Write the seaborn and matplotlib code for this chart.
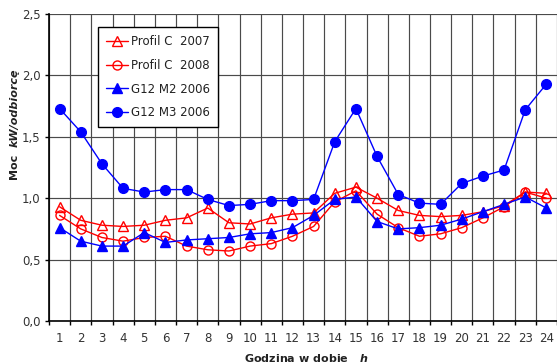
import matplotlib
matplotlib.use("Agg")
import matplotlib.pyplot as plt
import seaborn as sns
import pandas as pd
import numpy as np

hours = list(range(1, 25))
profil_c_2007 = [0.93, 0.82, 0.78, 0.77, 0.78, 0.82, 0.84, 0.92, 0.80, 0.79, 0.84, 0.87,
                 0.88, 1.04, 1.09, 1.00, 0.90, 0.86, 0.85, 0.86, 0.89, 0.94, 1.05, 1.04]
profil_c_2008 = [0.86, 0.75, 0.68, 0.65, 0.68, 0.69, 0.61, 0.58, 0.57, 0.61, 0.63, 0.69,
                 0.77, 0.97, 1.06, 0.87, 0.76, 0.69, 0.71, 0.76, 0.84, 0.93, 1.05, 1.00]
g12_m2_2006 = [0.76, 0.65, 0.61, 0.61, 0.72, 0.64, 0.66, 0.67, 0.68, 0.71, 0.72, 0.76,
               0.86, 0.99, 1.01, 0.81, 0.75, 0.76, 0.78, 0.83, 0.89, 0.95, 1.01, 0.92]
g12_m3_2006 = [1.73, 1.54, 1.28, 1.08, 1.05, 1.07, 1.07, 0.99, 0.94, 0.95, 0.98, 0.98,
               0.99, 1.46, 1.73, 1.34, 1.03, 0.96, 0.95, 1.12, 1.18, 1.23, 1.72, 1.93]
series_names = ["Profil C  2007", "Profil C  2008", "G12 M2 2006", "G12 M3 2006"]
y_ticks = [0.0, 0.5, 1.0, 1.5, 2.0, 2.5]
y_tick_labels = ["0,0", "0,5", "1,0", "1,5", "2,0", "2,5"]

sns.set_theme(style="white")
plt.rcParams['font.family'] = ['DejaVu Sans']

fig = plt.figure(figsize=(5.57, 3.64), dpi=100)
W, H = 557, 364
ax = fig.add_axes([49 / W, (H - 321) / H, (557 - 49) / W, (321 - 14) / H])

styles = [
    (profil_c_2007, "red", "^", "none"),
    (profil_c_2008, "red", "o", "none"),
    (g12_m2_2006, "blue", "^", "blue"),
    (g12_m3_2006, "blue", "o", "blue"),
]
for name, (vals, col, mk, fc) in zip(series_names, styles):
    df = pd.DataFrame({"h": hours, "v": vals})
    ms = 7 if mk == "o" and fc != "none" else 6.5
    sns.lineplot(data=df, x="h", y="v", ax=ax, color=col, marker=mk, markersize=ms,
                 markerfacecolor=fc, markeredgecolor=col, markeredgewidth=1.0,
                 linewidth=1.0, label=name, zorder=3)

ax.set_xlim(0.5, 24.23)
ax.set_ylim(0, 2.5)

ax.set_xticks(np.arange(0.5, 25, 1.0))
ax.set_xticklabels([])
ax.set_xticks(hours, minor=True)
ax.set_xticklabels([str(h) for h in hours], minor=True)
ax.tick_params(axis="x", which="major", length=3, width=1, color="black", direction="out", bottom=True)
ax.tick_params(axis="x", which="minor", length=0, pad=8, labelsize=8.5, labelcolor="#333333")
ax.set_yticks(y_ticks)
ax.set_yticklabels(y_tick_labels)
ax.tick_params(axis="y", length=3, width=1, color="black", direction="out", left=True,
               labelsize=8.5, labelcolor="#333333", pad=3)

ax.grid(True, which="major", axis="both", color="#4a4a4a", linewidth=0.85)
ax.set_axisbelow(True)
for s in ["left", "bottom"]:
    ax.spines[s].set_color("black")
    ax.spines[s].set_linewidth(1.2)
ax.spines["top"].set_visible(False)
ax.spines["right"].set_visible(False)

ax.set_xlabel("")
ax.set_ylabel("")
fig.text(306 / W, 1 - 358 / H, r"Godzina w dobie   $\boldsymbol{h}$", ha="center", va="center",
         fontsize=8, fontweight="bold", color="#222222")
fig.text(15 / W, 1 - 147 / H, "Moc  ", rotation=90, ha="center", va="top",
         fontsize=8, fontweight="bold", color="#222222")
fig.text(15 / W, 1 - 147 / H, "kW/odbiorcę", rotation=90, ha="center", va="bottom",
         fontsize=8, fontweight="bold", fontstyle="italic", color="#222222")

leg = ax.legend(loc="upper left", bbox_to_anchor=((98 - 49) / 508, 1 - (27 - 14) / 307),
                borderaxespad=0, frameon=True, fancybox=False, edgecolor="black", fontsize=8.5,
                handlelength=1.8, borderpad=0.7, labelspacing=0.9, handletextpad=0.3)
leg.get_frame().set_linewidth(1.0)
leg.get_frame().set_facecolor("white")
leg.get_frame().set_alpha(1)
leg.set_zorder(5)
for t in leg.get_texts():
    t.set_color("#222222")

fig.savefig("out.png", dpi=100)
